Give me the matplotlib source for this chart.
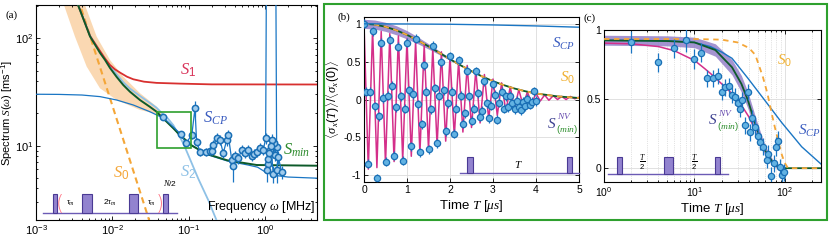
import matplotlib
matplotlib.use("Agg")
import matplotlib.pyplot as plt
from matplotlib.patches import Rectangle
from matplotlib.ticker import LogLocator, NullFormatter, FixedLocator, FixedFormatter

plt.rcParams['font.family'] = ['Liberation Sans', 'DejaVu Sans']
plt.rcParams['mathtext.fontset'] = 'custom'
plt.rcParams['mathtext.rm'] = 'Liberation Sans'
plt.rcParams['mathtext.it'] = 'Liberation Serif:italic'
plt.rcParams['mathtext.bf'] = 'Liberation Sans:bold'
plt.rcParams['mathtext.sf'] = 'Liberation Sans'
plt.rcParams['axes.unicode_minus'] = False

# colours
C_RED = '#d8302f'
C_GREEN = '#0d5a2a'
C_ORANGE = '#f4a638'
C_BAND = '#f9cf9f'
C_LBLUE = '#8ec1e6'
C_BLUE = '#1a76c4'
C_PINK = '#d42f8a'
C_PURPLE = '#9480c8'
C_PULSE = '#9283cf'
C_PULSE_EDGE = '#4a3a94'
C_FRAME = '#2ea02e'
C_DOT = '#62b2e2'
C_DOT_EDGE = '#1a6fb5'

# ---------------- (a) noise spectra ----------------
w_min = [2.96e-3, 3.34e-3, 3.77e-3, 5.1e-3, 6.9e-3, 8.0e-3, 9.3e-3, 0.0114, 0.0139, 0.017, 0.023,
         0.031, 0.038, 0.044, 0.063, 0.077, 0.085, 0.11, 0.17, 0.32, 0.78, 5.0]
s_min = [282, 228, 183, 104, 73, 63, 53, 43.6, 36.7, 31.8, 26.6,
         23.0, 20.7, 18.6, 14.5, 12.5, 11.8, 10.0, 8.4, 7.3, 6.6, 6.5]

w_s1 = [2.96e-3, 3.34e-3, 3.77e-3, 5.1e-3, 6.9e-3, 8.0e-3, 9.3e-3, 0.0108, 0.0126, 0.0155, 0.0188,
        0.026, 0.038, 0.077, 0.2, 5.0]
s_s1 = [282, 228, 184, 105, 76, 65, 56.4, 51.4, 47.9, 43.9, 41.5, 39.4, 38.4, 37.8, 37.2, 37.1]

w_s2 = [2.96e-3, 3.34e-3, 5.1e-3, 6.9e-3, 9.3e-3, 0.0139, 0.017, 0.023, 0.031, 0.038, 0.045, 0.052,
        0.063, 0.085, 0.104, 0.134, 0.181, 0.233, 0.3]
s_s2 = [285, 230, 106, 75, 55, 39, 34, 29, 25, 22.5, 20, 18.3, 15.5, 10.5, 7.5, 4.9, 3.1, 2.0, 1.2]

w_cp = [1e-3, 2e-3, 4e-3, 6.9e-3, 0.0114, 0.0188, 0.031, 0.047, 0.063, 0.085, 0.11, 0.17, 0.32,
        0.6, 0.8, 1.0, 1.3, 2.0, 5.0]
s_cp = [30.1, 30.0, 29.6, 28.6, 26.6, 23.9, 20.7, 18.0, 14.6, 11.6, 10.1, 8.3, 7.2,
        6.6, 6.3, 5.7, 5.3, 5.1, 4.97]

w_s0 = [3.0e-3, 0.032]
s_s0 = [340, 1.8]

# uncertainty band of S_min (upper edge then lower edge, as a closed outline)
band_w = [4.13e-3, 6.24e-3, 9.31e-3, 0.0139, 0.023, 0.0381, 0.0465,
          0.0426, 0.023, 0.0114, 6.89e-3, 4.61e-3, 3.24e-3, 2.2e-3]
band_s = [228, 103.5, 62.8, 43.9, 30.8, 23.1, 18.6,
          19.3, 21.5, 26.6, 34.2, 54.5, 103.5, 228]

# measured CPMG spectrum (one point far off scale at ~1.2 MHz)
w_data = [0.046, 0.079, 0.092, 0.11, 0.121, 0.127, 0.141, 0.17, 0.19, 0.2, 0.21, 0.233, 0.257,
          0.284, 0.315, 0.33, 0.366, 0.385, 0.405, 0.447, 0.495, 0.547, 0.605, 0.67, 0.72,
          0.78, 0.86, 0.95, 1.02, 1.2, 1.42, 1.36, 1.3, 1.22, 1.16, 1.1, 1.05, 1.08, 1.14,
          1.2, 1.28, 1.42, 1.49, 1.65]
s_data = [18.4, 12.8, 10.5, 12.6, 22.3, 10.9, 8.8, 8.8, 9.0, 9.0, 10.2, 11.7, 11.3,
          8.5, 11.3, 12.6, 7.4, 6.4, 8.0, 7.6, 9.1, 8.6, 9.1, 8.0, 8.4,
          8.8, 9.5, 9.1, 11.7, 1e12, 9.8, 8.2, 10.5, 11.3, 9.1, 6.8, 5.9, 7.5, 8.5,
          10.0, 5.5, 5.9, 7.9, 5.7]
e_data = [1.2, 0.9, 0.8, 1.0, 4.0, 1.0, 0.8, 0.8, 0.9, 0.8, 1.0, 1.3, 1.2,
          0.8, 1.3, 1.5, 1.0, 1.8, 0.9, 0.9, 1.0, 0.9, 1.0, 0.8, 0.9,
          0.9, 1.0, 1.0, 1.3, 0.0, 1.2, 1.0, 1.4, 1.5, 1.2, 1.0, 1.3, 1.0, 1.2,
          1.2, 1.0, 1.4, 1.1, 0.8]

zoom_box_w = [0.0388, 0.107]
zoom_box_s = [9.46, 20.5]

# pulse sequence sketch for (a), axes fractions
pulses_a = [(0.059, 0.076), (0.163, 0.198), (0.332, 0.364), (0.453, 0.469)]

# ---------------- (b) Ramsey-type decay, linear time ----------------
t_b = [0.00, 0.05, 0.10, 0.15, 0.20, 0.25, 0.30, 0.35, 0.40, 0.45, 0.50, 0.55, 0.60, 0.65,
       0.70, 0.75, 0.80, 0.85, 0.90, 0.95, 1.00, 1.05, 1.10, 1.15, 1.20, 1.25, 1.30, 1.35,
       1.40, 1.45, 1.50, 1.55, 1.60, 1.65, 1.70, 1.75, 1.80, 1.85, 1.90, 1.95, 2.00, 2.05,
       2.10, 2.15, 2.20, 2.25, 2.30, 2.35, 2.40, 2.45, 2.50, 2.55, 2.60, 2.65, 2.70, 2.75,
       2.80, 2.85, 2.90, 2.95, 3.00, 3.05, 3.10, 3.15, 3.20, 3.25, 3.30, 3.35, 3.40, 3.45,
       3.50, 3.55, 3.60, 3.65, 3.70, 3.75, 3.80, 3.85, 3.90, 3.95, 4.00]
v_b = [1.00, 0.10, -0.85, 0.10, 0.90, -0.09, -1.04, -0.22, 0.75, 0.02, -0.82, 0.05, 0.79, 0.18,
       -0.74, -0.10, 0.70, 0.04, -0.81, -0.12, 0.75, 0.12, -0.62, 0.07, 0.80, -0.06, -0.70, -0.33,
       0.45, 0.10, -0.66, -0.13, 0.71, 0.15, -0.58, 0.05, 0.49, 0.12, -0.42, -0.05, 0.57, 0.10,
       -0.45, -0.12, 0.52, 0.05, -0.32, -0.18, 0.38, 0.04, -0.28, -0.12, 0.37, 0.08, -0.23, -0.15,
       0.24, -0.05, -0.25, -0.08, 0.20, 0.06, -0.27, -0.04, 0.10, -0.12, 0.04, -0.10, 0.05, -0.05,
       -0.13, -0.02, -0.10, -0.14, -0.03, -0.09, 0.01, -0.07, -0.03, 0.11, -0.02]
err_b = 0.06

t_pink = [0.0, 0.1, 0.2, 0.3, 0.4, 0.5, 0.6, 0.7, 0.8, 0.9, 1.0, 1.1, 1.2, 1.3, 1.4, 1.5, 1.6,
          1.7, 1.8, 1.9, 2.0, 2.1, 2.2, 2.3, 2.4, 2.5, 2.6, 2.7, 2.8, 2.9, 3.0, 3.1, 3.2, 3.3,
          3.4, 3.5, 3.6, 3.7, 3.8, 3.9, 4.0, 4.1, 4.2, 4.3, 4.4, 4.5, 4.6, 4.7, 4.8, 4.9, 5.0]
v_pink = [1.00, -0.92, 0.93, -0.90, 0.90, -0.86, 0.87, -0.82, 0.84, -0.80, 0.80, -0.75, 0.77,
          -0.71, 0.72, -0.66, 0.68, -0.61, 0.63, -0.55, 0.57, -0.49, 0.51, -0.43, 0.45, -0.37,
          0.39, -0.31, 0.33, -0.26, 0.27, -0.21, 0.22, -0.16, 0.17, -0.12, 0.13, -0.08, 0.10,
          -0.05, 0.08, -0.02, 0.06, -0.01, 0.05, 0.00, 0.04, 0.00, 0.04, 0.01, 0.03]

t_env = [0.0, 0.25, 0.5, 0.75, 1.0, 1.25, 1.5, 1.75, 2.0, 2.25, 2.5, 2.75, 3.0, 3.25, 3.5,
         3.75, 4.0, 4.5, 5.0]
v_env = [1.0, 0.990, 0.961, 0.915, 0.854, 0.782, 0.702, 0.618, 0.533, 0.451, 0.374, 0.304,
         0.242, 0.190, 0.145, 0.109, 0.080, 0.041, 0.020]

t_bband = [0.0, 0.25, 0.5, 0.75, 1.0, 1.25, 1.5, 1.75, 2.0, 2.25, 2.5]
lo_bband = [0.94, 0.93, 0.90, 0.855, 0.80, 0.737, 0.667, 0.593, 0.518, 0.443, 0.374]
hi_bband = [1.06, 1.05, 1.02, 0.975, 0.91, 0.827, 0.737, 0.643, 0.548, 0.459, 0.374]

t_cp_b = [0.0, 1.0, 2.0, 3.0, 4.0, 5.0]
v_cp_b = [1.0, 0.998, 0.994, 0.985, 0.972, 0.955]

pulses_b = [(2.40, 2.53), (4.71, 4.83)]

# ---------------- (c) echo decay, log time ----------------
t_c = [2.0, 4.0, 5.9, 8.05, 9.85, 11.8, 13.8, 15.9, 18.0, 19.9, 21.7, 24.0, 25.8, 28.0, 30.0,
       31.7, 33.8, 36.0, 38.6, 41.0, 43.5, 46.5, 49.8, 53.0, 57.6, 62.6, 65.3, 70.0, 75.0,
       79.4, 84.0, 88.0, 92.0, 98.0]
v_c = [0.915, 0.766, 0.867, 0.93, 0.79, 0.835, 0.65, 0.65, 0.667, 0.553, 0.585, 0.594, 0.53,
       0.517, 0.47, 0.43, 0.49, 0.31, 0.55, 0.26, 0.36, 0.30, 0.23, 0.19, 0.155, 0.06, 0.106,
       -0.06, 0.034, 0.155, 0.2, 0.01, -0.05, -0.03]
e_c = [0.08, 0.07, 0.07, 0.09, 0.07, 0.07, 0.06, 0.06, 0.06, 0.06, 0.06, 0.06, 0.06, 0.06,
       0.06, 0.06, 0.06, 0.06, 0.06, 0.06, 0.06, 0.06, 0.06, 0.06, 0.06, 0.06, 0.06, 0.07,
       0.06, 0.07, 0.07, 0.06, 0.06, 0.06]

t_gc = [1.0, 5.0, 10.0, 17.0, 26.0, 33.0, 39.0, 48.0, 60.0, 77.0, 100.0, 250.0]
v_gc = [0.925, 0.92, 0.91, 0.855, 0.73, 0.61, 0.49, 0.30, 0.13, 0.02, 0.0, 0.0]
lo_gc = [0.89, 0.885, 0.872, 0.81, 0.675, 0.55, 0.43, 0.245, 0.095, 0.008, 0.0, 0.0]
hi_gc = [0.962, 0.958, 0.948, 0.90, 0.785, 0.67, 0.55, 0.355, 0.165, 0.035, 0.0, 0.0]

t_oc = [1.0, 10.0, 20.0, 30.0, 40.0, 47.0, 57.0, 64.0, 70.0, 77.0, 84.0, 92.0, 99.0, 108.0, 250.0]
v_oc = [0.935, 0.935, 0.93, 0.91, 0.87, 0.82, 0.66, 0.54, 0.42, 0.30, 0.20, 0.10, 0.04, 0.0, 0.0]

t_bc = [1.0, 5.0, 10.0, 15.0, 20.0, 26.0, 39.0, 60.0, 92.0, 153.0, 250.0]
v_bc = [0.925, 0.922, 0.91, 0.88, 0.84, 0.795, 0.65, 0.49, 0.33, 0.155, 0.03]

t_pc = [1.0, 2.0, 4.0, 6.0, 8.0, 10.0, 13.0, 16.0, 20.0, 25.0, 30.0, 35.0, 40.0, 45.0]
v_pc = [0.905, 0.90, 0.88, 0.85, 0.81, 0.78, 0.72, 0.67, 0.61, 0.55, 0.49, 0.43, 0.37, 0.30]

pulses_c = [(1.38, 1.57), (4.6, 5.75), (16.8, 19.1)]


def style_box(ax, size):
    ax.tick_params(which='both', direction='in', top=True, right=True, labelsize=size,
                   width=0.6, pad=2)
    ax.tick_params(which='major', length=3)
    ax.tick_params(which='minor', length=1.6)
    for s in ax.spines.values():
        s.set_linewidth(0.8)


def nv_label(ax, x, y, fs):
    ax.text(x, y, r'$S$', color='#3b3f8f', fontsize=fs, va='baseline', zorder=10)
    ax.annotate(r'$NV$', (x, y), xytext=(fs * 0.62, fs * 0.55), textcoords='offset points',
                color='#6a4fb0', fontsize=fs * 0.62, va='baseline', zorder=10)
    ax.annotate(r'$(min)$', (x, y), xytext=(fs * 0.55, -fs * 0.32), textcoords='offset points',
                color='#2f8f2f', fontsize=fs * 0.62, va='baseline', zorder=10)


fig = plt.figure(figsize=(8.31, 2.40), dpi=100)

# ===== (a) =====
ax = fig.add_axes([36 / 831, 20 / 240, 281 / 831, 215 / 240])
ax.set_xscale('log')
ax.set_yscale('log')
ax.fill(band_w, band_s, color=C_BAND, alpha=0.8, lw=0, zorder=1)
ax.plot(w_s0, s_s0, color=C_ORANGE, lw=1.5, dashes=(3, 2), zorder=2)
ax.plot(w_s2, s_s2, color=C_LBLUE, lw=1.3, zorder=3)
ax.plot(w_s1, s_s1, color=C_RED, lw=1.3, zorder=3)
ax.plot(w_cp, s_cp, color=C_BLUE, lw=0.9, zorder=4)
ax.plot(w_min, s_min, color=C_GREEN, lw=1.4, zorder=5)
ax.plot(w_data, s_data, color=C_BLUE, lw=0.9, zorder=6)
ax.errorbar(w_data, s_data, yerr=e_data, fmt='o', ms=4.5, mfc='#9fcbed', mec=C_DOT_EDGE,
            mew=1.1, ecolor=C_BLUE, elinewidth=0.9, capsize=0, zorder=7)
ax.add_patch(Rectangle((zoom_box_w[0], zoom_box_s[0]), zoom_box_w[1] - zoom_box_w[0],
                       zoom_box_s[1] - zoom_box_s[0], fill=False, ec=C_FRAME, lw=1.2, zorder=8))
ax.set_xlim(1e-3, 4.8)
ax.set_ylim(2.03, 204)
style_box(ax, 8)
ax.set_xticks([1e-3, 1e-2, 1e-1, 1e0])
ax.set_yticks([1e1, 1e2])
ax.xaxis.set_minor_locator(LogLocator(base=10, subs=range(2, 10), numticks=20))
ax.yaxis.set_minor_locator(LogLocator(base=10, subs=range(2, 10), numticks=20))
ax.xaxis.set_minor_formatter(NullFormatter())
ax.yaxis.set_minor_formatter(NullFormatter())
ax.set_ylabel(r'Spectrum $S(\omega)$ [ms$^{-1}$]', fontsize=8, labelpad=0)
ax.yaxis.set_label_coords(-0.074, 0.5)
ax.text(0.995, 0.045, r'Frequency $\omega$ [MHz]', transform=ax.transAxes, fontsize=9,
        ha='right', va='baseline', zorder=10)
ax.text(0.512, 0.674, r'$S_1$', transform=ax.transAxes, color='#d9345a', fontsize=12, va='baseline')
ax.text(0.594, 0.451, r'$S_{CP}$', transform=ax.transAxes, color='#3a5cc0', fontsize=12, va='baseline')
ax.text(0.879, 0.302, r'$S_{min}$', transform=ax.transAxes, color='#2e8b2e', fontsize=12, va='baseline')
ax.text(0.274, 0.195, r'$S_0$', transform=ax.transAxes, color=C_ORANGE, fontsize=12, va='baseline')
ax.text(0.512, 0.200, r'$S_2$', transform=ax.transAxes, color=C_LBLUE, fontsize=12, va='baseline')
# pulse sketch
ax.plot([0.025, 0.50], [0.034, 0.034], transform=ax.transAxes, color='#6b5bb5', lw=1.0, zorder=9)
for x0, x1 in pulses_a:
    ax.add_patch(Rectangle((x0, 0.034), x1 - x0, 0.086, transform=ax.transAxes, fc=C_PULSE,
                           ec=C_PULSE_EDGE, lw=0.8, zorder=9))
ax.text(0.121, 0.07, r'$\tau_m$', transform=ax.transAxes, fontsize=6, ha='center', zorder=10)
ax.text(0.263, 0.07, r'$2\tau_m$', transform=ax.transAxes, fontsize=6, ha='center', zorder=10)
ax.text(0.412, 0.07, r'$\tau_m$', transform=ax.transAxes, fontsize=6, ha='center', zorder=10)
ax.text(0.477, 0.16, r'$N/2$', transform=ax.transAxes, fontsize=6, ha='center', zorder=10)
ax.text(0.085, 0.045, '(', transform=ax.transAxes, fontsize=15, color='#ff7080', ha='center',
        family='DejaVu Sans', fontweight='light', zorder=10)
ax.text(0.441, 0.045, ')', transform=ax.transAxes, fontsize=15, color='#ff7080', ha='center',
        family='DejaVu Sans', fontweight='light', zorder=10)
fig.text(6 / 831, 1 - 18 / 240, '(a)', family='Liberation Serif', fontsize=8)

# ===== (b) =====
bx = fig.add_axes([364 / 831, 58 / 240, 215 / 831, 165 / 240])
bx.grid(True, color='#dcdcdc', lw=0.6, zorder=0)
bx.set_axisbelow(True)
bx.fill_between(t_bband, lo_bband, hi_bband, color=C_PURPLE, alpha=0.85, lw=0, zorder=1)
bx.plot(t_pink, v_pink, color=C_PINK, lw=1.1, zorder=2)
bx.plot(t_env, v_env, color=C_GREEN, lw=1.3, zorder=3)
bx.plot(t_env, v_env, color=C_ORANGE, lw=1.3, dashes=(3, 2.5), zorder=4)
bx.errorbar(t_b, v_b, yerr=err_b, fmt='o', ms=4.5, mfc=C_DOT, mec=C_DOT_EDGE, mew=0.9,
            ecolor=C_BLUE, elinewidth=0.9, capsize=0, zorder=5)
bx.plot(t_cp_b, v_cp_b, color=C_BLUE, lw=1.0, zorder=6)
bx.plot([2.23, 5.0], [-0.975, -0.975], color='#6b5bb5', lw=1.0, zorder=7, clip_on=False)
for x0, x1 in pulses_b:
    bx.add_patch(Rectangle((x0, -0.975), x1 - x0, 0.22, fc=C_PULSE, ec=C_PULSE_EDGE, lw=0.8, zorder=7))
bx.text(3.6, -0.9, r'$T$', fontsize=8, ha='center', va='baseline', zorder=8)
bx.text(4.37, 0.68, r'$S_{CP}$', color='#3a5cc0', fontsize=11, va='baseline')
bx.text(4.55, 0.235, r'$S_0$', color='#f0b030', fontsize=11, va='baseline')
nv_label(bx, 4.26, -0.37, 11)
bx.set_xlim(0, 5)
bx.set_ylim(-1.09, 1.09)
bx.set_xticks([0, 1, 2, 3, 4, 5])
bx.yaxis.set_major_locator(FixedLocator([-1, -0.5, 0, 0.5, 1]))
bx.yaxis.set_major_formatter(FixedFormatter(['-1', '-0.5', '0', '0.5', '1']))
style_box(bx, 7.5)
bx.set_xlabel(r'Time $T$ [$\mu s$]', fontsize=9.5, labelpad=2)
bx.set_ylabel(r'$\langle\sigma_x(T)\rangle/\langle\sigma_x(0)\rangle$', fontsize=9, labelpad=1)
fig.text(338 / 831, 1 - 20 / 240, '(b)', family='Liberation Serif', fontsize=8)

# ===== (c) =====
cx = fig.add_axes([604 / 831, 58 / 240, 217 / 831, 152 / 240])
cx.set_xscale('log')
cx.grid(True, which='major', color='#dcdcdc', lw=0.6)
cx.grid(True, which='minor', axis='x', color='#c8c8c8', lw=0.5, ls=':')
cx.set_axisbelow(True)
cx.fill_between(t_gc, lo_gc, hi_gc, color=C_PURPLE, alpha=0.85, lw=0, zorder=1)
cx.plot(t_bc, v_bc, color=C_BLUE, lw=1.0, zorder=2)
cx.plot(t_pc, v_pc, color=C_PINK, lw=1.1, zorder=2)
cx.plot(t_gc, v_gc, color=C_GREEN, lw=1.3, zorder=3)
cx.plot(t_oc, v_oc, color=C_ORANGE, lw=1.3, dashes=(3, 2.5), zorder=4)
cx.errorbar(t_c, v_c, yerr=e_c, fmt='o', ms=4.5, mfc=C_DOT, mec=C_DOT_EDGE, mew=0.9,
            ecolor=C_BLUE, elinewidth=0.9, capsize=0, zorder=5)
cx.plot([1.1, 23.4], [-0.043, -0.043], color='#6b5bb5', lw=1.0, zorder=7)
for x0, x1 in pulses_c:
    cx.add_patch(Rectangle((x0, -0.043), x1 - x0, 0.125, fc=C_PULSE, ec=C_PULSE_EDGE, lw=0.8, zorder=7))
cx.text(2.65, 0.035, r'$\frac{T}{2}$', fontsize=8, ha='center', va='center', zorder=8)
cx.text(9.9, 0.035, r'$\frac{T}{2}$', fontsize=8, ha='center', va='center', zorder=8)
cx.text(82, 0.75, r'$S_0$', color='#f0b030', fontsize=11, va='baseline')
cx.text(140, 0.24, r'$S_{CP}$', color='#3a5cc0', fontsize=11, va='baseline')
nv_label(cx, 14.2, 0.32, 11)
cx.set_xlim(1, 250)
cx.set_ylim(-0.1, 1.0)
cx.set_xticks([1, 10, 100])
cx.xaxis.set_minor_locator(LogLocator(base=10, subs=range(2, 10), numticks=20))
cx.xaxis.set_minor_formatter(NullFormatter())
cx.yaxis.set_major_locator(FixedLocator([0, 0.5, 1]))
cx.yaxis.set_major_formatter(FixedFormatter(['0', '0.5', '1']))
style_box(cx, 7.5)
cx.set_xlabel(r'Time $T$ [$\mu s$]', fontsize=9.5, labelpad=2)
fig.text(584 / 831, 1 - 21 / 240, '(c)', family='Liberation Serif', fontsize=8)

# green frame around (b) and (c)
fig.add_artist(Rectangle((324 / 831, 20 / 240), 503 / 831, 216 / 240, transform=fig.transFigure,
                         fill=False, ec=C_FRAME, lw=1.5))

fig.savefig('out.png', dpi=100)
